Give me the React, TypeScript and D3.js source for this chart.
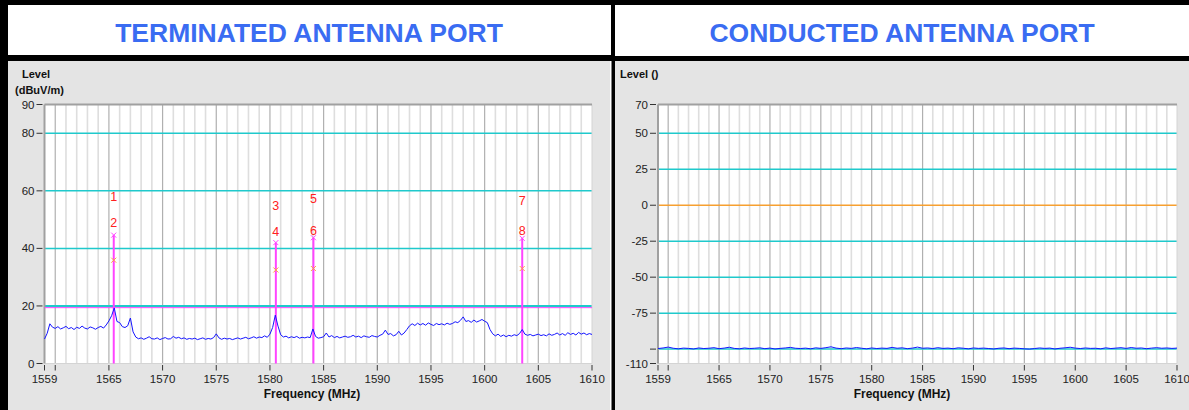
import React from 'react';
import * as d3 from 'd3';

// ---- data ----
const traceStart = 1559;
const traceStep = 0.25;
// terminated port, dBuV/m, one value every 0.25 MHz from 1559 to 1610
const terminatedLevels = [
  8.5, 10.5, 13.8, 12.6, 12.2, 12.8, 12.0, 12.4, 12.9, 12.1,
  12.5, 11.8, 12.6, 12.2, 13.0, 12.3, 12.0, 12.7, 12.4, 11.9,
  12.5, 12.9, 12.3, 13.4, 14.8, 16.6, 19.3, 14.6, 14.2, 12.8,
  12.5, 13.1, 15.8, 11.0, 9.2, 8.6, 8.9, 8.4, 8.8, 9.3,
  8.6, 8.5, 8.9, 8.3, 8.7, 9.0, 8.5, 8.6, 9.4, 8.8,
  9.1, 8.6, 8.9, 8.4, 8.7, 8.5, 8.8, 8.3, 8.6, 8.9,
  8.4, 8.7, 8.5, 9.0, 10.3, 8.9, 8.4, 8.8, 8.5, 8.7,
  8.3, 8.6, 8.9, 8.5, 8.8, 9.1, 8.6, 8.9, 9.3, 8.8,
  9.2, 9.0, 9.6, 9.1, 10.2, 12.5, 16.8, 13.0, 10.0, 9.2,
  9.5, 8.9, 9.3, 9.0, 9.4, 8.8, 9.1, 8.9, 9.2, 9.0,
  12.0, 9.4, 8.8, 9.0, 9.3, 10.6, 9.2, 9.7, 9.0, 9.4,
  8.9, 9.2, 9.5, 9.1, 9.3, 9.8, 9.2, 9.5, 9.0, 9.6,
  9.3, 9.1, 9.7, 9.4, 9.2, 9.8, 10.2, 11.6, 10.1, 10.4,
  9.6, 10.0, 11.2, 9.9, 10.6, 11.8, 13.1, 13.8, 13.2, 14.0,
  13.4, 13.9, 13.3, 14.1, 13.6, 13.2, 13.9, 13.5, 13.8, 13.4,
  14.0, 13.6, 13.9, 14.5, 14.2, 15.0, 16.2, 14.6, 14.9, 14.3,
  15.1, 14.4, 14.8, 15.3, 14.7, 14.2, 11.8, 10.3, 9.6, 10.2,
  9.4, 9.9, 9.3, 9.8, 9.5, 10.0, 9.7, 10.4, 11.8, 10.2,
  9.8, 10.1, 9.6, 9.9, 10.2, 9.7, 10.0, 9.6, 10.3, 9.8,
  10.1, 10.6, 9.9, 10.4, 9.8, 10.7, 10.1, 10.5, 9.9, 10.8,
  10.2, 10.6, 10.0, 10.4, 10.1,
];
const conductedStep = 0.5;
// conducted port, one value every 0.5 MHz from 1559 to 1610
const conductedLevels = [
  -99.6, -99.2, -98.6, -99.4, -99.8, -99.3, -99.5, -99.9, -99.2, -99.6,
  -99.4, -99.0, -99.7, -99.3, -98.7, -99.5, -99.8, -99.2, -99.6, -99.4,
  -99.1, -99.7, -99.3, -99.9, -99.5, -99.2, -98.8, -99.4, -99.6, -99.3,
  -99.8, -99.1, -99.5, -99.0, -98.4, -99.3, -99.7, -99.2, -99.5, -98.9,
  -99.4, -99.8, -99.2, -99.6, -99.3, -99.5, -98.8, -99.4, -99.1, -99.7,
  -99.3, -98.6, -99.4, -99.2, -99.6, -99.0, -99.5, -99.3, -99.7, -99.1,
  -99.4, -99.8, -99.2, -99.5, -99.3, -99.6, -99.9, -99.4, -99.2, -99.7,
  -99.3, -99.5, -99.8, -100.0, -99.6, -99.2, -99.5, -99.3, -99.9, -99.4,
  -99.1, -98.7, -99.3, -99.6, -99.2, -99.5, -99.4, -99.8, -99.1, -99.6,
  -99.3, -99.0, -99.5, -98.9, -99.4, -99.2, -99.7, -99.3, -99.0, -99.4,
  -99.2, -99.5, -99.3,
];

const limitLevel = 19.4;
const markerFreqs = [1565.45, 1580.55, 1584.05, 1603.5];
const peakLevels = [44.6, 42.0, 43.7, 43.5];
const avgLevels = [35.9, 32.5, 33.0, 33.0];
const peakLabels = ['2', '4', '6', '8'];
const avgLabels = ['1', '3', '5', '7'];
const peakLabelLevels = [49.1, 45.7, 46.1, 46.1];
const avgLabelLevels = [57.9, 55.0, 57.4, 56.5];

const xTicks = [1559, 1560, 1565, 1570, 1575, 1580, 1585, 1590, 1595, 1600, 1605, 1610];
const leftYTicks = [0, 20, 40, 60, 80, 90];
const leftGrid = [20, 40, 60, 80];
const rightYTicks = [70, 50, 25, 0, -25, -50, -75, -100, -110];
const rightYLabels = ['70', '50', '25', '0', '-25', '-50', '-75', '', '-110'];
const rightGrid = [50, 25, -25, -50, -75, -100];

const W = 1189;
const H = 410;
const FONT = 'Liberation Sans, Arial, sans-serif';
const CYAN = '#1fc9cc';

interface PlotProps {
  x0: number;
  x1: number;
  yDomain: [number, number];
  yTicks: number[];
  yLabels: string[];
  grid: number[];
  zero?: boolean;
  trace: number[];
  step: number;
  children?: (x: d3.ScaleLinear<number, number>, y: d3.ScaleLinear<number, number>) => React.ReactNode;
}

const TOP = 104.5;
const BOTTOM = 363.5;

function Plot({ x0, x1, yDomain, yTicks, yLabels, grid, zero, trace, step, children }: PlotProps) {
  const x = d3.scaleLinear().domain([1559, 1610]).range([x0, x1]);
  const y = d3.scaleLinear().domain(yDomain).range([BOTTOM, TOP]);
  const minors = d3.range(1560, 1610).filter(f => f % 5 !== 0 && f !== 1560);
  const majors = d3.range(1560, 1610, 5);
  const line = d3.line<number>()
    .x((_, i) => x(traceStart + i * step))
    .y(d => y(d));

  return (
    <g>
      <rect x={x0} y={TOP} width={x1 - x0} height={BOTTOM - TOP} fill="#fff" />
      {minors.map(f => (
        <line key={'m' + f} x1={x(f)} x2={x(f)} y1={TOP} y2={BOTTOM} stroke="#dedede" strokeWidth={1.6} />
      ))}
      {majors.map(f => (
        <line key={'M' + f} x1={x(f)} x2={x(f)} y1={TOP} y2={BOTTOM} stroke="#b0b0b0" strokeWidth={1.2} />
      ))}
      {grid.map(v => (
        <line key={'g' + v} x1={x0} x2={x1} y1={y(v)} y2={y(v)} stroke={CYAN} strokeWidth={v === 20 ? 2 : 1.5} />
      ))}
      {zero && <line x1={x0} x2={x1} y1={y(0)} y2={y(0)} stroke="#f7a030" strokeWidth={1.5} />}
      {/* frame */}
      <line x1={x1} x2={x1} y1={TOP} y2={BOTTOM} stroke="#d4d4d4" strokeWidth={1} />
      <line x1={x0} x2={x1} y1={BOTTOM} y2={BOTTOM} stroke="#d4d4d4" strokeWidth={1} />
      <line x1={x0} x2={x1} y1={TOP} y2={TOP} stroke="#a0a0a0" strokeWidth={2} />
      <line x1={x0} x2={x0} y1={TOP} y2={BOTTOM} stroke="#a0a0a0" strokeWidth={2} />
      {children && children(x, y)}
      <path d={line(trace) || ''} fill="none" stroke="#1414ff" strokeWidth={1} />
      {/* y axis */}
      {yTicks.map((v, i) => (
        <g key={'yt' + v}>
          <line x1={x0 - 8} x2={x0 - 2} y1={y(v)} y2={y(v)} stroke="#333" strokeWidth={1} />
          <text x={x0 - 10} y={y(v) + 4} textAnchor="end" fontSize={11.5} fill="#222" fontFamily={FONT}>
            {yLabels[i]}
          </text>
        </g>
      ))}
      {/* x axis */}
      {xTicks.map(f => (
        <g key={'xt' + f}>
          <line x1={x(f)} x2={x(f)} y1={BOTTOM + 1.5} y2={BOTTOM + 7} stroke="#333" strokeWidth={1} />
          {f !== 1560 && (
            <text x={x(f)} y={383} textAnchor="middle" fontSize={11.5} fill="#222" fontFamily={FONT}>
              {f}
            </text>
          )}
        </g>
      ))}
    </g>
  );
}

const Cross = ({ cx, cy, color }: { cx: number; cy: number; color: string }) => (
  <g stroke={color} strokeWidth={1}>
    <line x1={cx - 2.5} x2={cx + 2.5} y1={cy - 2.5} y2={cy + 2.5} />
    <line x1={cx - 2.5} x2={cx + 2.5} y1={cy + 2.5} y2={cy - 2.5} />
  </g>
);

export default function App() {
  return (
    <svg width={W} height={H} style={{ position: 'absolute', left: 0, top: 0 }} fontFamily={FONT}>
      <rect x={0} y={0} width={W} height={H} fill="#000" />
      <rect x={8} y={5} width={603} height={50} fill="#fff" />
      <rect x={615} y={5} width={W - 615} height={51} fill="#fff" />
      <rect x={8} y={61} width={602} height={H - 61} fill="#e4e4e4" />
      <rect x={610} y={61} width={1.5} height={H - 61} fill="#fff" />
      <rect x={615} y={61} width={W - 615} height={H - 61} fill="#e4e4e4" />

      <text x={309} y={42} textAnchor="middle" fontSize={26.5} fontWeight="bold" fill="#3a6cf2">
        TERMINATED ANTENNA PORT
      </text>
      <text x={902} y={42} textAnchor="middle" fontSize={26.5} fontWeight="bold" fill="#3a6cf2">
        CONDUCTED ANTENNA PORT
      </text>

      <text x={36} y={78} textAnchor="middle" fontSize={11} fontWeight="bold" fill="#111">Level</text>
      <text x={39.5} y={94} textAnchor="middle" fontSize={11} fontWeight="bold" fill="#111">(dBuV/m)</text>
      <text x={620} y={78} fontSize={11} fontWeight="bold" fill="#111">Level ()</text>

      <Plot
        x0={44.5}
        x1={592}
        yDomain={[0, 90]}
        yTicks={leftYTicks}
        yLabels={leftYTicks.map(String)}
        grid={leftGrid}
        trace={terminatedLevels}
        step={traceStep}
      >
        {(x, y) => (
          <g>
            <line x1={44.5} x2={592} y1={y(limitLevel)} y2={y(limitLevel)} stroke="#ff40ff" strokeWidth={1} />
            {markerFreqs.map((f, i) => (
              <g key={'mk' + i}>
                <line x1={x(f)} x2={x(f)} y1={BOTTOM} y2={y(peakLevels[i])} stroke="#ff44ff" strokeWidth={2} />
                <Cross cx={x(f)} cy={y(peakLevels[i])} color="#ff44ff" />
                <Cross cx={x(f)} cy={y(avgLevels[i])} color="#ffa040" />
                <text x={x(f)} y={y(peakLabelLevels[i]) + 4.5} textAnchor="middle" fontSize={12.5} fill="#ff2020">
                  {peakLabels[i]}
                </text>
                <text x={x(f)} y={y(avgLabelLevels[i]) + 4.5} textAnchor="middle" fontSize={12.5} fill="#ff2020">
                  {avgLabels[i]}
                </text>
              </g>
            ))}
          </g>
        )}
      </Plot>

      <Plot
        x0={658}
        x1={1177}
        yDomain={[-110, 70]}
        yTicks={rightYTicks}
        yLabels={rightYLabels}
        grid={rightGrid}
        zero
        trace={conductedLevels}
        step={conductedStep}
      />

      <text x={312} y={398} textAnchor="middle" fontSize={12} fontWeight="bold" fill="#111">Frequency (MHz)</text>
      <text x={902} y={398} textAnchor="middle" fontSize={12} fontWeight="bold" fill="#111">Frequency (MHz)</text>
    </svg>
  );
}
